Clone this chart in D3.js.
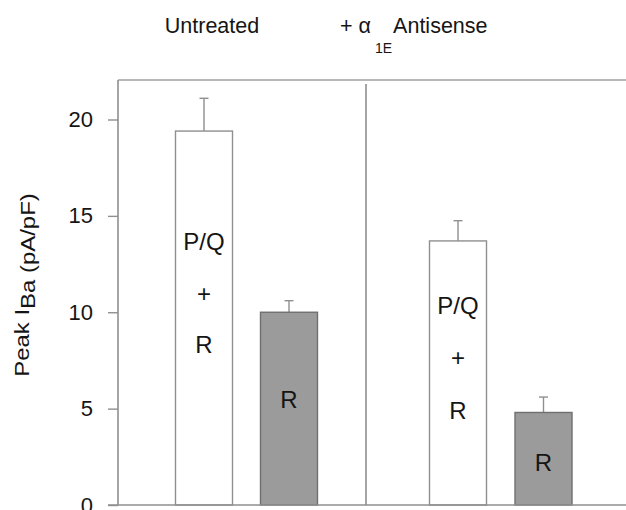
<!DOCTYPE html>
<html><head><meta charset="utf-8">
<script src="https://cdn.jsdelivr.net/npm/d3@7/dist/d3.min.js"></script>
<style>html,body{margin:0;padding:0;background:#fff;}svg{display:block;font-family:"Liberation Sans",Arial,sans-serif;}</style>
</head><body><svg id="c" width="626" height="510"></svg>
<script>
const groups = ["Untreated", "+ α1E Antisense"];
const bars = ["U-PQR", "U-R", "A-PQR", "A-R"];
const barGroup = ["Untreated", "Untreated", "+ α1E Antisense", "+ α1E Antisense"];
const values = [19.4, 10.0, 13.7, 4.8];
const errors = [1.7, 0.6, 1.05, 0.8];
const fills = ["#ffffff", "#9b9b9b", "#ffffff", "#9b9b9b"];
const barLabels = [["P/Q", "+", "R"], ["R"], ["P/Q", "+", "R"], ["R"]];
const yTicks = [0, 5, 10, 15, 20];

const svg = d3.select("#c");
const x0 = 118, x1 = 626, yTop = 80, yBot = 505;
const y = d3.scaleLinear().domain([0, 20]).range([505, 119.5]);
const barX = d3.scaleOrdinal().domain(bars).range([175.5, 260.5, 429.5, 515]);
const barW = 57;
const lineCol = "#8f8f8f";
const txtCol = "#151515";

// frame lines
svg.append("line").attr("x1", x0).attr("x2", x1).attr("y1", yTop).attr("y2", yTop)
  .attr("stroke", "#a0a0a0").attr("stroke-width", 1.6);
svg.append("line").attr("x1", 366).attr("x2", 366).attr("y1", 84).attr("y2", yBot)
  .attr("stroke", lineCol).attr("stroke-width", 1.6);

// bars
const g = svg.append("g");
bars.forEach((b, i) => {
  const bx = barX(b);
  const cx = bx + barW / 2;
  g.append("line").attr("x1", cx).attr("x2", cx).attr("y1", y(values[i])).attr("y2", y(values[i] + errors[i]))
    .attr("stroke", lineCol).attr("stroke-width", 1.4);
  g.append("line").attr("x1", cx - 4.5).attr("x2", cx + 4.5).attr("y1", y(values[i] + errors[i])).attr("y2", y(values[i] + errors[i]))
    .attr("stroke", lineCol).attr("stroke-width", 1.4);
  g.append("rect").attr("x", bx).attr("y", y(values[i])).attr("width", barW).attr("height", y(0) - y(values[i]))
    .attr("fill", fills[i]).attr("stroke", i % 2 ? "#6f6f6f" : lineCol).attr("stroke-width", 1.4);
});

// bar labels (stacked text inside bars)
const labelCenters = [[241.7, 293.5, 345], [400], [306, 357.5, 410.5], [462.5]];
bars.forEach((b, i) => {
  const cx = barX(b) + barW / 2;
  barLabels[i].forEach((t, j) => {
    svg.append("text").attr("x", cx).attr("y", labelCenters[i][j]).attr("dy", "0.35em")
      .attr("text-anchor", "middle").attr("font-size", 24).attr("fill", txtCol).text(t);
  });
});

// y axis
const ax = svg.append("g").attr("transform", `translate(${x0},0)`)
  .call(d3.axisLeft(y).tickValues(yTicks).tickSize(10).tickPadding(15).tickFormat(d3.format("d")));
ax.select(".domain").remove();
ax.selectAll(".tick line").attr("stroke", lineCol).attr("stroke-width", 1.4);
ax.selectAll(".tick text").attr("font-size", 22).attr("fill", txtCol)
  .attr("font-family", '"Liberation Sans",Arial,sans-serif');
svg.append("line").attr("x1", x0).attr("x2", x0).attr("y1", yTop).attr("y2", yBot)
  .attr("stroke", lineCol).attr("stroke-width", 1.6);
svg.append("line").attr("x1", 108).attr("x2", x1).attr("y1", yBot).attr("y2", yBot)
  .attr("stroke", lineCol).attr("stroke-width", 1.6);

// y axis title
const yt = svg.append("text").attr("transform", "translate(28.5,285) rotate(-90) scale(1.14,1)")
  .attr("text-anchor", "middle").attr("font-size", 21).attr("fill", txtCol);
yt.append("tspan").text("Peak I");
yt.append("tspan").attr("dy", 6).text("Ba (pA/pF)");

// group titles
svg.append("text").attr("x", 212).attr("y", 33).attr("text-anchor", "middle")
  .attr("font-size", 21.5).attr("fill", txtCol).text(groups[0]);
const t2 = svg.append("text").attr("x", 340).attr("y", 33).attr("font-size", 21.5).attr("fill", txtCol);
t2.append("tspan").text("+ α");
t2.append("tspan").attr("dx", 4).attr("dy", 20).attr("font-size", 14).text("1E");
t2.append("tspan").attr("dx", 1).attr("dy", -20).text("Antisense");
</script></body></html>
